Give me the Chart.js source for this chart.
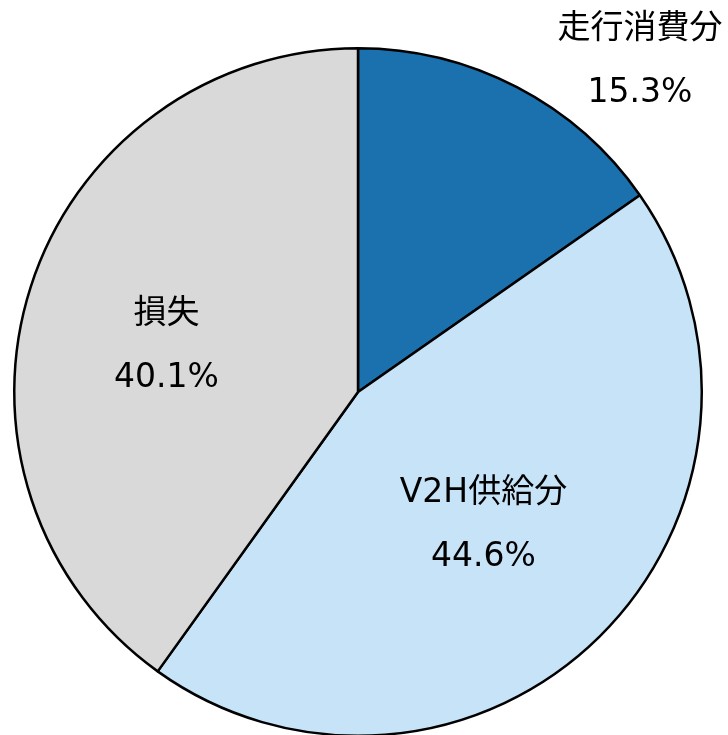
<!DOCTYPE html>
<html>
<head>
<meta charset="utf-8">
<script src="https://cdn.jsdelivr.net/npm/chart.js@4/dist/chart.umd.min.js"></script>
<style>
  html, body { margin: 0; padding: 0; background: #fff; overflow: hidden; }
  #wrap { width: 728px; height: 737px; position: relative; }
</style>
</head>
<body>
<div id="wrap"><canvas id="canvas-1"></canvas></div>
<script>
  // data
  var labels = ['走行消費分', 'V2H供給分', '損失'];
  var shares = [15.3, 44.6, 40.1];
  var colors = ['#1a71ae', '#c6e3f7', '#d9d9d9'];

  // label placement, in units of the pie radius from the centre
  var labelOffsets = [[0.820, -0.961], [0.365, 0.388], [-0.557, -0.133]];

  var labelPlugin = {
    id: 'sliceLabels',
    afterDraw: function(chart) {
      var ctx = chart.ctx;
      var meta = chart.getDatasetMeta(0);
      ctx.save();
      ctx.fillStyle = '#000';
      ctx.font = '33px "DejaVu Sans", "Noto Sans CJK JP", sans-serif';
      ctx.textAlign = 'center';
      ctx.textBaseline = 'middle';
      meta.data.forEach(function(arc, i) {
        var r = arc.outerRadius;
        var cx = arc.x + labelOffsets[i][0] * r;
        var cy = arc.y + labelOffsets[i][1] * r;
        ctx.fillText(labels[i], cx, cy - 32);
        ctx.fillText(shares[i].toFixed(1) + '%', cx, cy + 32);
      });
      ctx.restore();
    }
  };

  var ctx = document.getElementById('canvas-1');
  var chart = new Chart(ctx, {
    type: 'pie',
    data: {
      labels: labels,
      datasets: [{
        data: shares,
        backgroundColor: colors,
        borderColor: '#000',
        borderWidth: 2.5
      }]
    },
    options: {
      responsive: true,
      maintainAspectRatio: false,
      animation: false,
      layout: { padding: { top: 47, left: 13, right: 25, bottom: 0 } },
      plugins: {
        legend: { display: false },
        tooltip: { enabled: false }
      }
    },
    plugins: [labelPlugin]
  });
</script>
</body>
</html>
